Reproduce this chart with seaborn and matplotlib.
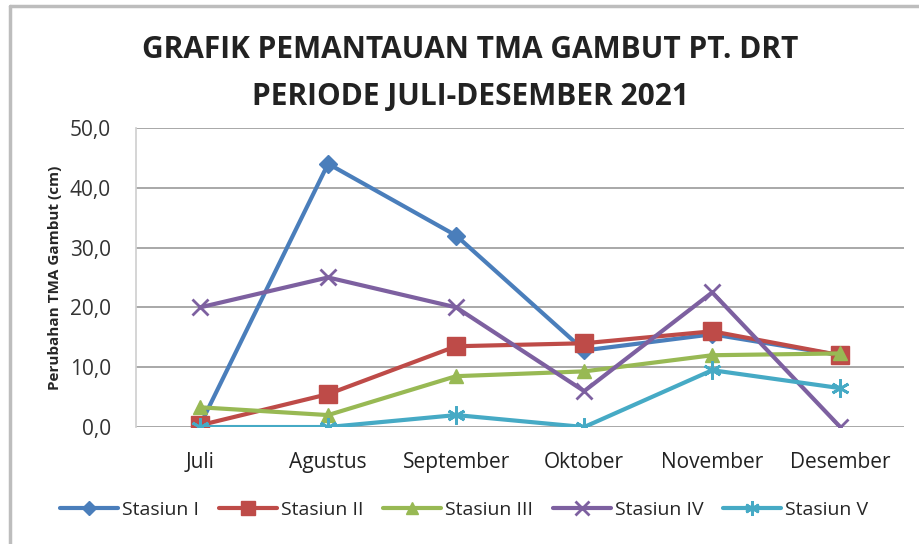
import numpy as np
import pandas as pd
import matplotlib
matplotlib.use("Agg")
import matplotlib.pyplot as plt
import seaborn as sns
from matplotlib.lines import Line2D

# ─── Data ────────────────────────────────────────────────────────────────────
months = ["Juli", "Agustus", "September", "Oktober", "November", "Desember"]
stasiun_1 = [0.3, 44.0, 32.0, 12.8, 15.5, 12.0]
stasiun_2 = [0.3, 5.5, 13.5, 14.0, 16.0, 12.0]
stasiun_3 = [3.3, 2.0, 8.5, 9.3, 12.0, 12.3]
stasiun_4 = [20.0, 25.0, 20.0, 6.0, 22.5, 0.0]
stasiun_5 = [0.0, 0.0, 2.0, 0.0, 9.5, 6.5]
series_names = ["Stasiun I", "Stasiun II", "Stasiun III", "Stasiun IV", "Stasiun V"]
yticks = [0, 10, 20, 30, 40, 50]

# ─── Style ───────────────────────────────────────────────────────────────────
colors = ["#4A7EBB", "#BE4B48", "#98B954", "#7D60A0", "#46AAC5"]
markers = ["D", "s", "^", "x", (6, 2, 0)]
msizes = [9, 13, 10, 12, 13]

sns.set_theme(style="white")
plt.rcParams["font.family"] = ["Open Sans", "DejaVu Sans"]

df = pd.DataFrame({"bulan": months * 5,
                   "x": list(range(len(months))) * 5,
                   "nilai": stasiun_1 + stasiun_2 + stasiun_3 + stasiun_4 + stasiun_5,
                   "stasiun": np.repeat(series_names, len(months))})

fig = plt.figure(figsize=(9.19, 5.44), dpi=100)
ax = fig.add_axes([0.148, 0.215, 0.836, 0.550])

for name, col, mk, ms in zip(series_names, colors, markers, msizes):
    sub = df[df["stasiun"] == name]
    sns.lineplot(data=sub, x="x", y="nilai", ax=ax, color=col, linewidth=3,
                 marker=mk, markersize=ms, markeredgecolor=col,
                 markeredgewidth=2 if mk in ("x", (6, 2, 0)) else 1,
                 label=name, legend=False, zorder=3)

ax.set_xlim(-0.5, len(months) - 0.5)
ax.set_ylim(0, 50)
ax.set_yticks(yticks)
ax.set_yticklabels([f"{v:.1f}".replace(".", ",") for v in yticks], fontsize=15, color="#333333")
ax.set_xticks(range(len(months)))
ax.set_xticklabels(months, fontsize=15, color="#222222")
ax.tick_params(axis="x", length=0, pad=18)
ax.tick_params(axis="y", length=0, pad=18)
ax.grid(axis="y", color="#9a9a9a", linewidth=1.2)
ax.set_axisbelow(True)
for s in ["top", "right", "bottom"]:
    ax.spines[s].set_visible(False)
ax.spines["left"].set_color("#d0d0d0")
ax.set_xlabel("")
ax.set_ylabel("Perubahan TMA Gambut (cm)", fontsize=11, fontweight="bold", labelpad=6)

fig.text(0.512, 0.908, "GRAFIK PEMANTAUAN TMA GAMBUT PT. DRT", ha="center", va="center",
         fontsize=21.5, fontweight="bold", color="#222222")
fig.text(0.512, 0.822, "PERIODE JULI-DESEMBER 2021", ha="center", va="center",
         fontsize=21.5, fontweight="bold", color="#222222")

handles = [Line2D([0], [0], color=c, lw=3, marker=m, markersize=ms * 0.8,
                  markeredgecolor=c, markeredgewidth=2 if m in ("x", (6, 2, 0)) else 1)
           for c, m, ms in zip(colors, markers, msizes)]
fig.legend(handles, series_names, loc="center", bbox_to_anchor=(0.505, 0.062), ncol=5,
           frameon=False, fontsize=14, handlelength=3.0, handletextpad=0.2, columnspacing=1.0)

# chart frame (left + top edge visible)
fig.add_artist(Line2D([0.011, 0.011], [0.0, 0.989], color="#bdbdbd", lw=2.5,
                      transform=fig.transFigure))
fig.add_artist(Line2D([0.011, 1.0], [0.989, 0.989], color="#bdbdbd", lw=2.5,
                      transform=fig.transFigure))

fig.savefig("out.png", dpi=100)
